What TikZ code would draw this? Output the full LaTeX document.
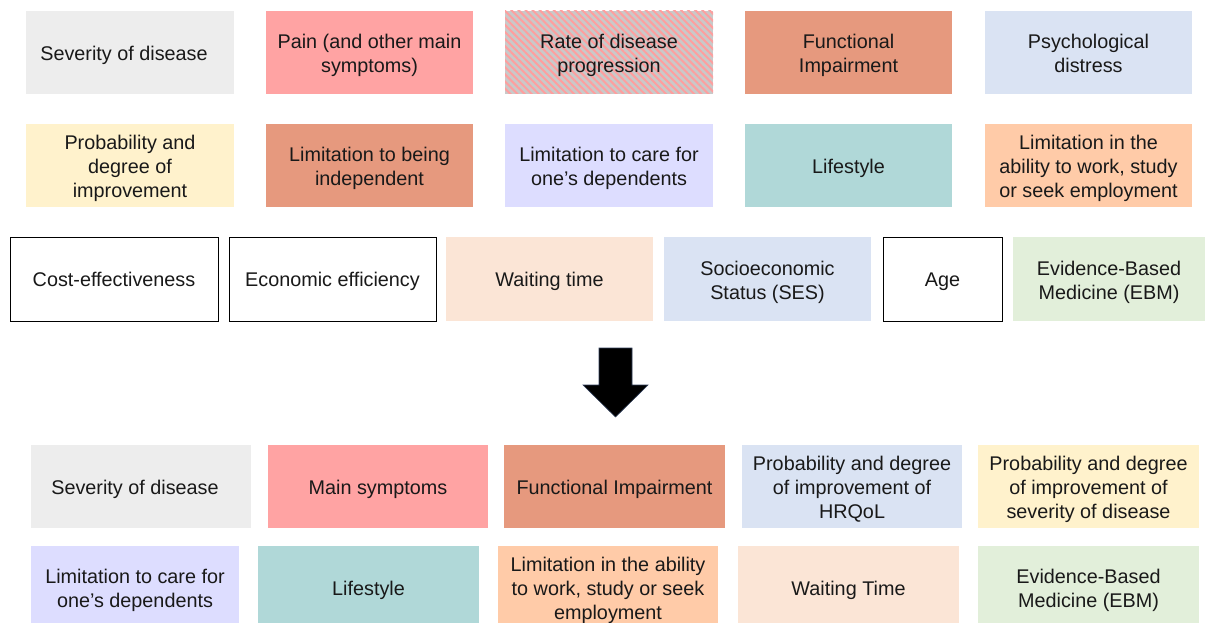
\documentclass[tikz,border=0pt]{standalone}
\usepackage{fontspec}
\setmainfont{Liberation Sans}
\usetikzlibrary{patterns.meta}
\definecolor{cgray}{HTML}{EDEDED}
\definecolor{cpink}{HTML}{FFA3A3}
\definecolor{hgray}{HTML}{C9C9C9}
\definecolor{hpink}{HTML}{FF9E9E}
\definecolor{csalmon}{HTML}{E6997E}
\definecolor{cblue}{HTML}{DAE3F3}
\definecolor{cyellow}{HTML}{FFF2CC}
\definecolor{clav}{HTML}{DDDDFF}
\definecolor{cteal}{HTML}{B0D8D8}
\definecolor{cpeach}{HTML}{FFCBA8}
\definecolor{cwait}{HTML}{FBE5D6}
\definecolor{cgreen}{HTML}{E2EFDA}
\definecolor{arrowedge}{HTML}{2F3E5A}
\tikzset{
  box/.style={rectangle, draw=none, inner sep=0pt},
  txt/.style={inner sep=0pt, align=center,
    font=\fontsize{19.8}{24}\selectfont, text=black!90},
  gray/.style={fill=cgray}, pink/.style={fill=cpink},
  salmon/.style={fill=csalmon}, blue/.style={fill=cblue},
  yellow/.style={fill=cyellow}, lav/.style={fill=clav},
  teal/.style={fill=cteal}, peach/.style={fill=cpeach},
  wait/.style={fill=cwait}, green/.style={fill=cgreen},
  white/.style={fill=white, draw=black, line width=1pt},
  hatch/.style={fill=hgray, postaction={pattern={Lines[angle=-45,distance=5pt,line width=2pt]}, pattern color=hpink}},
}
% \bx{name}{x}{y}{width}{height}{style}{text shift}{text}
\newcommand{\bx}[8]{%
  \node[box,#6,minimum width=#4pt,minimum height=#5pt] (#1) at (#2,#3) {};
  \node[txt] (#1t) at ([yshift=-3pt,#7]#1.center) {#8};}
\begin{document}
\begin{tikzpicture}[x=1pt,y=-1pt]
\useasboundingbox (0,0) rectangle (1206,623);
\clip (0,0) rectangle (1206,623);
% Row 1
\bx{a1}{130}{52.5}{208}{83}{gray}{xshift=-6pt}{Severity of disease}
\bx{a2}{369.5}{52.5}{207}{83}{pink}{}{Pain (and other main\\symptoms)}
\bx{a3}{609}{52.5}{208}{83}{hatch}{}{Rate of disease\\progression}
\bx{a4}{848.5}{52.5}{207}{83}{salmon}{}{Functional\\Impairment}
\bx{a5}{1088.5}{52.5}{207}{83}{blue}{yshift=2pt}{Psychological\\distress}
% Row 2
\bx{b1}{130}{165.5}{208}{83}{yellow}{}{Probability and\\degree of\\improvement}
\bx{b2}{369.5}{165.5}{207}{83}{salmon}{}{Limitation to being\\independent}
\bx{b3}{609}{165.5}{208}{83}{lav}{}{Limitation to care for\\one’s dependents}
\bx{b4}{848.5}{165.5}{207}{83}{teal}{}{Lifestyle}
\bx{b5}{1088.5}{165.5}{207}{83}{peach}{}{Limitation in the\\ability to work, study\\or seek employment}
% Row 3
\bx{c1}{114}{279}{208}{84}{white}{yshift=3pt}{Cost-effectiveness}
\bx{c2}{332.5}{279}{207}{84}{white}{yshift=1pt}{Economic efficiency}
\bx{c3}{549.5}{279}{207}{84}{wait}{yshift=1pt}{Waiting time}
\bx{c4}{767.5}{279}{207}{84}{blue}{}{Socioeconomic\\Status (SES)}
\bx{c5}{942.5}{279}{119}{84}{white}{}{Age}
\bx{c6}{1109}{279}{192}{84}{green}{}{Evidence-Based\\Medicine (EBM)}
% Arrow
\draw[fill=black,draw=arrowedge,line width=0.6pt,line join=miter]
  (599,348) -- (632,348) -- (632,385) -- (648,385) -- (615.5,417) -- (583,385) -- (599,385) -- cycle;
% Row 4
\bx{d1}{141}{486.5}{220}{83}{gray}{xshift=-6pt}{Severity of disease}
\bx{d2}{378}{486.5}{220}{83}{pink}{}{Main symptoms}
\bx{d3}{614.5}{486.5}{221}{83}{salmon}{}{Functional Impairment}
\bx{d4}{852}{486.5}{220}{83}{blue}{}{Probability and degree\\of improvement of\\HRQoL}
\bx{d5}{1088.5}{486.5}{221}{83}{yellow}{}{Probability and degree\\of improvement of\\severity of disease}
% Row 5
\bx{e1}{135}{587.5}{208}{83}{lav}{}{Limitation to care for\\one’s dependents}
\bx{e2}{368.5}{587.5}{221}{83}{teal}{}{Lifestyle}
\bx{e3}{608}{587.5}{220}{83}{peach}{}{Limitation in the ability\\to work, study or seek\\employment}
\bx{e4}{848.5}{587.5}{221}{83}{wait}{}{Waiting Time}
\bx{e5}{1088.5}{587.5}{221}{83}{green}{}{Evidence-Based\\Medicine (EBM)}
\end{tikzpicture}
\end{document}
